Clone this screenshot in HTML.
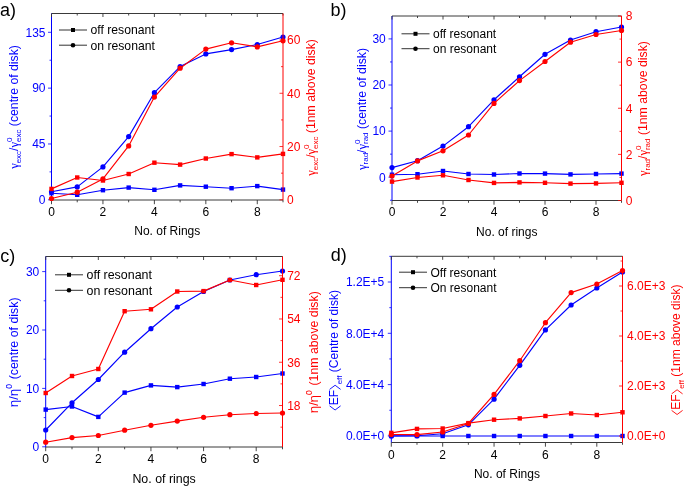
<!DOCTYPE html>
<html><head><meta charset="utf-8"><style>
html,body{margin:0;padding:0;background:#fff;}
svg{display:block;font-family:"Liberation Sans", sans-serif;will-change:transform;}
</style></head><body>
<svg width="685" height="486" viewBox="0 0 685 486">
<rect width="685" height="486" fill="#fff"/>
<line x1="51.50" y1="13.50" x2="283.00" y2="13.50" stroke="#3a3a3a" stroke-width="1.0" />
<line x1="51.50" y1="200.00" x2="283.00" y2="200.00" stroke="#3a3a3a" stroke-width="1.0" />
<line x1="51.50" y1="13.50" x2="51.50" y2="200.00" stroke="#0000ff" stroke-width="1.0" />
<line x1="51.50" y1="200.00" x2="51.50" y2="204.20" stroke="#333" stroke-width="0.9" />
<line x1="51.50" y1="13.50" x2="51.50" y2="17.00" stroke="#333" stroke-width="0.9" />
<text x="51.50" y="215.90" font-size="12" fill="#000" text-anchor="middle" >0</text>
<line x1="77.22" y1="200.00" x2="77.22" y2="202.30" stroke="#333" stroke-width="0.9" />
<line x1="77.22" y1="13.50" x2="77.22" y2="15.50" stroke="#333" stroke-width="0.9" />
<line x1="102.94" y1="200.00" x2="102.94" y2="204.20" stroke="#333" stroke-width="0.9" />
<line x1="102.94" y1="13.50" x2="102.94" y2="17.00" stroke="#333" stroke-width="0.9" />
<text x="102.94" y="215.90" font-size="12" fill="#000" text-anchor="middle" >2</text>
<line x1="128.67" y1="200.00" x2="128.67" y2="202.30" stroke="#333" stroke-width="0.9" />
<line x1="128.67" y1="13.50" x2="128.67" y2="15.50" stroke="#333" stroke-width="0.9" />
<line x1="154.39" y1="200.00" x2="154.39" y2="204.20" stroke="#333" stroke-width="0.9" />
<line x1="154.39" y1="13.50" x2="154.39" y2="17.00" stroke="#333" stroke-width="0.9" />
<text x="154.39" y="215.90" font-size="12" fill="#000" text-anchor="middle" >4</text>
<line x1="180.11" y1="200.00" x2="180.11" y2="202.30" stroke="#333" stroke-width="0.9" />
<line x1="180.11" y1="13.50" x2="180.11" y2="15.50" stroke="#333" stroke-width="0.9" />
<line x1="205.83" y1="200.00" x2="205.83" y2="204.20" stroke="#333" stroke-width="0.9" />
<line x1="205.83" y1="13.50" x2="205.83" y2="17.00" stroke="#333" stroke-width="0.9" />
<text x="205.83" y="215.90" font-size="12" fill="#000" text-anchor="middle" >6</text>
<line x1="231.56" y1="200.00" x2="231.56" y2="202.30" stroke="#333" stroke-width="0.9" />
<line x1="231.56" y1="13.50" x2="231.56" y2="15.50" stroke="#333" stroke-width="0.9" />
<line x1="257.28" y1="200.00" x2="257.28" y2="204.20" stroke="#333" stroke-width="0.9" />
<line x1="257.28" y1="13.50" x2="257.28" y2="17.00" stroke="#333" stroke-width="0.9" />
<text x="257.28" y="215.90" font-size="12" fill="#000" text-anchor="middle" >8</text>
<line x1="283.00" y1="200.00" x2="283.00" y2="202.30" stroke="#333" stroke-width="0.9" />
<line x1="283.00" y1="13.50" x2="283.00" y2="15.50" stroke="#333" stroke-width="0.9" />
<line x1="51.50" y1="199.80" x2="48.00" y2="199.80" stroke="#0000ff" stroke-width="0.8" />
<text x="45.50" y="204.10" font-size="12" fill="#0000ff" text-anchor="end" >0</text>
<line x1="51.50" y1="171.88" x2="49.50" y2="171.88" stroke="#0000ff" stroke-width="0.8" />
<line x1="51.50" y1="143.97" x2="48.00" y2="143.97" stroke="#0000ff" stroke-width="0.8" />
<text x="45.50" y="148.27" font-size="12" fill="#0000ff" text-anchor="end" >45</text>
<line x1="51.50" y1="116.05" x2="49.50" y2="116.05" stroke="#0000ff" stroke-width="0.8" />
<line x1="51.50" y1="88.14" x2="48.00" y2="88.14" stroke="#0000ff" stroke-width="0.8" />
<text x="45.50" y="92.44" font-size="12" fill="#0000ff" text-anchor="end" >90</text>
<line x1="51.50" y1="60.22" x2="49.50" y2="60.22" stroke="#0000ff" stroke-width="0.8" />
<line x1="51.50" y1="32.31" x2="48.00" y2="32.31" stroke="#0000ff" stroke-width="0.8" />
<text x="45.50" y="36.61" font-size="12" fill="#0000ff" text-anchor="end" >135</text>
<polyline points="51.50,193.20 77.22,194.80 102.94,190.20 128.67,187.60 154.39,189.80 180.11,185.40 205.83,186.70 231.56,188.20 257.28,186.10 283.00,189.60" fill="none" stroke="#0000ff" stroke-width="1.15" stroke-linejoin="round"/>
<rect x="49.30" y="191.00" width="4.4" height="4.4" fill="#0000ff"/>
<rect x="75.02" y="192.60" width="4.4" height="4.4" fill="#0000ff"/>
<rect x="100.74" y="188.00" width="4.4" height="4.4" fill="#0000ff"/>
<rect x="126.47" y="185.40" width="4.4" height="4.4" fill="#0000ff"/>
<rect x="152.19" y="187.60" width="4.4" height="4.4" fill="#0000ff"/>
<rect x="177.91" y="183.20" width="4.4" height="4.4" fill="#0000ff"/>
<rect x="203.63" y="184.50" width="4.4" height="4.4" fill="#0000ff"/>
<rect x="229.36" y="186.00" width="4.4" height="4.4" fill="#0000ff"/>
<rect x="255.08" y="183.90" width="4.4" height="4.4" fill="#0000ff"/>
<rect x="280.80" y="187.40" width="4.4" height="4.4" fill="#0000ff"/>
<polyline points="51.50,191.80 77.22,186.90 102.94,166.90 128.67,136.60 154.39,92.70 180.11,66.60 205.83,53.90 231.56,49.60 257.28,44.50 283.00,37.00" fill="none" stroke="#0000ff" stroke-width="1.15" stroke-linejoin="round"/>
<circle cx="51.50" cy="191.80" r="2.6" fill="#0000ff"/>
<circle cx="77.22" cy="186.90" r="2.6" fill="#0000ff"/>
<circle cx="102.94" cy="166.90" r="2.6" fill="#0000ff"/>
<circle cx="128.67" cy="136.60" r="2.6" fill="#0000ff"/>
<circle cx="154.39" cy="92.70" r="2.6" fill="#0000ff"/>
<circle cx="180.11" cy="66.60" r="2.6" fill="#0000ff"/>
<circle cx="205.83" cy="53.90" r="2.6" fill="#0000ff"/>
<circle cx="231.56" cy="49.60" r="2.6" fill="#0000ff"/>
<circle cx="257.28" cy="44.50" r="2.6" fill="#0000ff"/>
<circle cx="283.00" cy="37.00" r="2.6" fill="#0000ff"/>
<line x1="283.00" y1="13.50" x2="283.00" y2="200.00" stroke="#ff0000" stroke-width="1.0" />
<line x1="283.00" y1="199.80" x2="279.50" y2="199.80" stroke="#ff0000" stroke-width="0.8" />
<text x="287.00" y="204.10" font-size="12" fill="#ff0000" text-anchor="start" >0</text>
<line x1="283.00" y1="173.17" x2="281.00" y2="173.17" stroke="#ff0000" stroke-width="0.8" />
<line x1="283.00" y1="146.54" x2="279.50" y2="146.54" stroke="#ff0000" stroke-width="0.8" />
<text x="287.00" y="150.84" font-size="12" fill="#ff0000" text-anchor="start" >20</text>
<line x1="283.00" y1="119.91" x2="281.00" y2="119.91" stroke="#ff0000" stroke-width="0.8" />
<line x1="283.00" y1="93.28" x2="279.50" y2="93.28" stroke="#ff0000" stroke-width="0.8" />
<text x="287.00" y="97.58" font-size="12" fill="#ff0000" text-anchor="start" >40</text>
<line x1="283.00" y1="66.65" x2="281.00" y2="66.65" stroke="#ff0000" stroke-width="0.8" />
<line x1="283.00" y1="40.02" x2="279.50" y2="40.02" stroke="#ff0000" stroke-width="0.8" />
<text x="287.00" y="44.32" font-size="12" fill="#ff0000" text-anchor="start" >60</text>
<polyline points="51.50,188.90 77.22,177.50 102.94,180.50 128.67,174.00 154.39,162.70 180.11,164.60 205.83,158.50 231.56,154.10 257.28,157.40 283.00,153.90" fill="none" stroke="#ff0000" stroke-width="1.15" stroke-linejoin="round"/>
<rect x="49.30" y="186.70" width="4.4" height="4.4" fill="#ff0000"/>
<rect x="75.02" y="175.30" width="4.4" height="4.4" fill="#ff0000"/>
<rect x="100.74" y="178.30" width="4.4" height="4.4" fill="#ff0000"/>
<rect x="126.47" y="171.80" width="4.4" height="4.4" fill="#ff0000"/>
<rect x="152.19" y="160.50" width="4.4" height="4.4" fill="#ff0000"/>
<rect x="177.91" y="162.40" width="4.4" height="4.4" fill="#ff0000"/>
<rect x="203.63" y="156.30" width="4.4" height="4.4" fill="#ff0000"/>
<rect x="229.36" y="151.90" width="4.4" height="4.4" fill="#ff0000"/>
<rect x="255.08" y="155.20" width="4.4" height="4.4" fill="#ff0000"/>
<rect x="280.80" y="151.70" width="4.4" height="4.4" fill="#ff0000"/>
<polyline points="51.50,198.50 77.22,192.20 102.94,178.90 128.67,145.90 154.39,97.10 180.11,68.20 205.83,49.10 231.56,42.80 257.28,46.90 283.00,40.80" fill="none" stroke="#ff0000" stroke-width="1.15" stroke-linejoin="round"/>
<circle cx="51.50" cy="198.50" r="2.6" fill="#ff0000"/>
<circle cx="77.22" cy="192.20" r="2.6" fill="#ff0000"/>
<circle cx="102.94" cy="178.90" r="2.6" fill="#ff0000"/>
<circle cx="128.67" cy="145.90" r="2.6" fill="#ff0000"/>
<circle cx="154.39" cy="97.10" r="2.6" fill="#ff0000"/>
<circle cx="180.11" cy="68.20" r="2.6" fill="#ff0000"/>
<circle cx="205.83" cy="49.10" r="2.6" fill="#ff0000"/>
<circle cx="231.56" cy="42.80" r="2.6" fill="#ff0000"/>
<circle cx="257.28" cy="46.90" r="2.6" fill="#ff0000"/>
<circle cx="283.00" cy="40.80" r="2.6" fill="#ff0000"/>
<line x1="59.00" y1="30.00" x2="87.00" y2="30.00" stroke="#333" stroke-width="1.0" />
<line x1="59.00" y1="45.20" x2="87.00" y2="45.20" stroke="#333" stroke-width="1.0" />
<rect x="71.00" y="28.00" width="4.0" height="4.0" fill="#000"/>
<circle cx="73.00" cy="45.20" r="2.3" fill="#000"/>
<text x="90.50" y="34.30" font-size="12.2" fill="#000" text-anchor="start" >off resonant</text>
<text x="90.50" y="49.50" font-size="12.2" fill="#000" text-anchor="start" >on resonant</text>
<text x="167.25" y="235.20" font-size="12" fill="#000" text-anchor="middle" >No. of Rings</text>
<text x="0.00" y="15.50" font-size="18" fill="#000" text-anchor="start" >a)</text>
<line x1="392.00" y1="16.00" x2="621.50" y2="16.00" stroke="#3a3a3a" stroke-width="1.0" />
<line x1="392.00" y1="200.50" x2="621.50" y2="200.50" stroke="#3a3a3a" stroke-width="1.0" />
<line x1="392.00" y1="16.00" x2="392.00" y2="200.50" stroke="#0000ff" stroke-width="1.0" />
<line x1="392.00" y1="200.50" x2="392.00" y2="204.70" stroke="#333" stroke-width="0.9" />
<line x1="392.00" y1="16.00" x2="392.00" y2="19.50" stroke="#333" stroke-width="0.9" />
<text x="392.00" y="216.00" font-size="12" fill="#000" text-anchor="middle" >0</text>
<line x1="417.50" y1="200.50" x2="417.50" y2="202.80" stroke="#333" stroke-width="0.9" />
<line x1="417.50" y1="16.00" x2="417.50" y2="18.00" stroke="#333" stroke-width="0.9" />
<line x1="443.00" y1="200.50" x2="443.00" y2="204.70" stroke="#333" stroke-width="0.9" />
<line x1="443.00" y1="16.00" x2="443.00" y2="19.50" stroke="#333" stroke-width="0.9" />
<text x="443.00" y="216.00" font-size="12" fill="#000" text-anchor="middle" >2</text>
<line x1="468.50" y1="200.50" x2="468.50" y2="202.80" stroke="#333" stroke-width="0.9" />
<line x1="468.50" y1="16.00" x2="468.50" y2="18.00" stroke="#333" stroke-width="0.9" />
<line x1="494.00" y1="200.50" x2="494.00" y2="204.70" stroke="#333" stroke-width="0.9" />
<line x1="494.00" y1="16.00" x2="494.00" y2="19.50" stroke="#333" stroke-width="0.9" />
<text x="494.00" y="216.00" font-size="12" fill="#000" text-anchor="middle" >4</text>
<line x1="519.50" y1="200.50" x2="519.50" y2="202.80" stroke="#333" stroke-width="0.9" />
<line x1="519.50" y1="16.00" x2="519.50" y2="18.00" stroke="#333" stroke-width="0.9" />
<line x1="545.00" y1="200.50" x2="545.00" y2="204.70" stroke="#333" stroke-width="0.9" />
<line x1="545.00" y1="16.00" x2="545.00" y2="19.50" stroke="#333" stroke-width="0.9" />
<text x="545.00" y="216.00" font-size="12" fill="#000" text-anchor="middle" >6</text>
<line x1="570.50" y1="200.50" x2="570.50" y2="202.80" stroke="#333" stroke-width="0.9" />
<line x1="570.50" y1="16.00" x2="570.50" y2="18.00" stroke="#333" stroke-width="0.9" />
<line x1="596.00" y1="200.50" x2="596.00" y2="204.70" stroke="#333" stroke-width="0.9" />
<line x1="596.00" y1="16.00" x2="596.00" y2="19.50" stroke="#333" stroke-width="0.9" />
<text x="596.00" y="216.00" font-size="12" fill="#000" text-anchor="middle" >8</text>
<line x1="621.50" y1="200.50" x2="621.50" y2="202.80" stroke="#333" stroke-width="0.9" />
<line x1="621.50" y1="16.00" x2="621.50" y2="18.00" stroke="#333" stroke-width="0.9" />
<line x1="392.00" y1="200.25" x2="390.00" y2="200.25" stroke="#0000ff" stroke-width="0.8" />
<line x1="392.00" y1="177.20" x2="388.50" y2="177.20" stroke="#0000ff" stroke-width="0.8" />
<text x="385.80" y="181.50" font-size="12" fill="#0000ff" text-anchor="end" >0</text>
<line x1="392.00" y1="154.15" x2="390.00" y2="154.15" stroke="#0000ff" stroke-width="0.8" />
<line x1="392.00" y1="131.10" x2="388.50" y2="131.10" stroke="#0000ff" stroke-width="0.8" />
<text x="385.80" y="135.40" font-size="12" fill="#0000ff" text-anchor="end" >10</text>
<line x1="392.00" y1="108.05" x2="390.00" y2="108.05" stroke="#0000ff" stroke-width="0.8" />
<line x1="392.00" y1="85.00" x2="388.50" y2="85.00" stroke="#0000ff" stroke-width="0.8" />
<text x="385.80" y="89.30" font-size="12" fill="#0000ff" text-anchor="end" >20</text>
<line x1="392.00" y1="61.95" x2="390.00" y2="61.95" stroke="#0000ff" stroke-width="0.8" />
<line x1="392.00" y1="38.90" x2="388.50" y2="38.90" stroke="#0000ff" stroke-width="0.8" />
<text x="385.80" y="43.20" font-size="12" fill="#0000ff" text-anchor="end" >30</text>
<polyline points="392.00,174.70 417.50,174.20 443.00,171.00 468.50,174.00 494.00,174.50 519.50,173.50 545.00,173.60 570.50,174.40 596.00,174.00 621.50,173.60" fill="none" stroke="#0000ff" stroke-width="1.15" stroke-linejoin="round"/>
<rect x="389.80" y="172.50" width="4.4" height="4.4" fill="#0000ff"/>
<rect x="415.30" y="172.00" width="4.4" height="4.4" fill="#0000ff"/>
<rect x="440.80" y="168.80" width="4.4" height="4.4" fill="#0000ff"/>
<rect x="466.30" y="171.80" width="4.4" height="4.4" fill="#0000ff"/>
<rect x="491.80" y="172.30" width="4.4" height="4.4" fill="#0000ff"/>
<rect x="517.30" y="171.30" width="4.4" height="4.4" fill="#0000ff"/>
<rect x="542.80" y="171.40" width="4.4" height="4.4" fill="#0000ff"/>
<rect x="568.30" y="172.20" width="4.4" height="4.4" fill="#0000ff"/>
<rect x="593.80" y="171.80" width="4.4" height="4.4" fill="#0000ff"/>
<rect x="619.30" y="171.40" width="4.4" height="4.4" fill="#0000ff"/>
<polyline points="392.00,167.60 417.50,160.70 443.00,146.10 468.50,126.70 494.00,99.80 519.50,76.80 545.00,54.30 570.50,40.00 596.00,31.70 621.50,27.00" fill="none" stroke="#0000ff" stroke-width="1.15" stroke-linejoin="round"/>
<circle cx="392.00" cy="167.60" r="2.6" fill="#0000ff"/>
<circle cx="417.50" cy="160.70" r="2.6" fill="#0000ff"/>
<circle cx="443.00" cy="146.10" r="2.6" fill="#0000ff"/>
<circle cx="468.50" cy="126.70" r="2.6" fill="#0000ff"/>
<circle cx="494.00" cy="99.80" r="2.6" fill="#0000ff"/>
<circle cx="519.50" cy="76.80" r="2.6" fill="#0000ff"/>
<circle cx="545.00" cy="54.30" r="2.6" fill="#0000ff"/>
<circle cx="570.50" cy="40.00" r="2.6" fill="#0000ff"/>
<circle cx="596.00" cy="31.70" r="2.6" fill="#0000ff"/>
<circle cx="621.50" cy="27.00" r="2.6" fill="#0000ff"/>
<line x1="621.50" y1="16.00" x2="621.50" y2="200.50" stroke="#ff0000" stroke-width="1.0" />
<line x1="621.50" y1="200.50" x2="618.00" y2="200.50" stroke="#ff0000" stroke-width="0.8" />
<text x="625.80" y="204.80" font-size="12" fill="#ff0000" text-anchor="start" >0</text>
<line x1="621.50" y1="177.44" x2="619.50" y2="177.44" stroke="#ff0000" stroke-width="0.8" />
<line x1="621.50" y1="154.38" x2="618.00" y2="154.38" stroke="#ff0000" stroke-width="0.8" />
<text x="625.80" y="158.68" font-size="12" fill="#ff0000" text-anchor="start" >2</text>
<line x1="621.50" y1="131.32" x2="619.50" y2="131.32" stroke="#ff0000" stroke-width="0.8" />
<line x1="621.50" y1="108.26" x2="618.00" y2="108.26" stroke="#ff0000" stroke-width="0.8" />
<text x="625.80" y="112.56" font-size="12" fill="#ff0000" text-anchor="start" >4</text>
<line x1="621.50" y1="85.20" x2="619.50" y2="85.20" stroke="#ff0000" stroke-width="0.8" />
<line x1="621.50" y1="62.14" x2="618.00" y2="62.14" stroke="#ff0000" stroke-width="0.8" />
<text x="625.80" y="66.44" font-size="12" fill="#ff0000" text-anchor="start" >6</text>
<line x1="621.50" y1="39.08" x2="619.50" y2="39.08" stroke="#ff0000" stroke-width="0.8" />
<line x1="621.50" y1="16.02" x2="618.00" y2="16.02" stroke="#ff0000" stroke-width="0.8" />
<text x="625.80" y="20.32" font-size="12" fill="#ff0000" text-anchor="start" >8</text>
<polyline points="392.00,181.60 417.50,177.50 443.00,175.30 468.50,180.00 494.00,182.90 519.50,182.40 545.00,182.80 570.50,183.60 596.00,183.40 621.50,182.80" fill="none" stroke="#ff0000" stroke-width="1.15" stroke-linejoin="round"/>
<rect x="389.80" y="179.40" width="4.4" height="4.4" fill="#ff0000"/>
<rect x="415.30" y="175.30" width="4.4" height="4.4" fill="#ff0000"/>
<rect x="440.80" y="173.10" width="4.4" height="4.4" fill="#ff0000"/>
<rect x="466.30" y="177.80" width="4.4" height="4.4" fill="#ff0000"/>
<rect x="491.80" y="180.70" width="4.4" height="4.4" fill="#ff0000"/>
<rect x="517.30" y="180.20" width="4.4" height="4.4" fill="#ff0000"/>
<rect x="542.80" y="180.60" width="4.4" height="4.4" fill="#ff0000"/>
<rect x="568.30" y="181.40" width="4.4" height="4.4" fill="#ff0000"/>
<rect x="593.80" y="181.20" width="4.4" height="4.4" fill="#ff0000"/>
<rect x="619.30" y="180.60" width="4.4" height="4.4" fill="#ff0000"/>
<polyline points="392.00,176.00 417.50,160.90 443.00,150.80 468.50,135.00 494.00,103.40 519.50,80.60 545.00,61.50 570.50,42.20 596.00,34.50 621.50,30.50" fill="none" stroke="#ff0000" stroke-width="1.15" stroke-linejoin="round"/>
<circle cx="392.00" cy="176.00" r="2.6" fill="#ff0000"/>
<circle cx="417.50" cy="160.90" r="2.6" fill="#ff0000"/>
<circle cx="443.00" cy="150.80" r="2.6" fill="#ff0000"/>
<circle cx="468.50" cy="135.00" r="2.6" fill="#ff0000"/>
<circle cx="494.00" cy="103.40" r="2.6" fill="#ff0000"/>
<circle cx="519.50" cy="80.60" r="2.6" fill="#ff0000"/>
<circle cx="545.00" cy="61.50" r="2.6" fill="#ff0000"/>
<circle cx="570.50" cy="42.20" r="2.6" fill="#ff0000"/>
<circle cx="596.00" cy="34.50" r="2.6" fill="#ff0000"/>
<circle cx="621.50" cy="30.50" r="2.6" fill="#ff0000"/>
<line x1="401.50" y1="33.80" x2="429.50" y2="33.80" stroke="#333" stroke-width="1.0" />
<line x1="401.50" y1="48.70" x2="429.50" y2="48.70" stroke="#333" stroke-width="1.0" />
<rect x="413.50" y="31.80" width="4.0" height="4.0" fill="#000"/>
<circle cx="415.50" cy="48.70" r="2.3" fill="#000"/>
<text x="433.00" y="38.10" font-size="12" fill="#000" text-anchor="start" >off resonant</text>
<text x="433.00" y="53.00" font-size="12" fill="#000" text-anchor="start" >on resonant</text>
<text x="506.75" y="235.50" font-size="12" fill="#000" text-anchor="middle" >No. of rings</text>
<text x="330.50" y="15.60" font-size="18" fill="#000" text-anchor="start" >b)</text>
<line x1="45.70" y1="256.50" x2="282.50" y2="256.50" stroke="#3a3a3a" stroke-width="1.0" />
<line x1="45.70" y1="447.00" x2="282.50" y2="447.00" stroke="#3a3a3a" stroke-width="1.0" />
<line x1="45.70" y1="256.50" x2="45.70" y2="447.00" stroke="#0000ff" stroke-width="1.0" />
<line x1="45.70" y1="447.00" x2="45.70" y2="451.20" stroke="#333" stroke-width="0.9" />
<line x1="45.70" y1="256.50" x2="45.70" y2="260.00" stroke="#333" stroke-width="0.9" />
<text x="45.70" y="462.80" font-size="12" fill="#000" text-anchor="middle" >0</text>
<line x1="72.01" y1="447.00" x2="72.01" y2="449.30" stroke="#333" stroke-width="0.9" />
<line x1="72.01" y1="256.50" x2="72.01" y2="258.50" stroke="#333" stroke-width="0.9" />
<line x1="98.32" y1="447.00" x2="98.32" y2="451.20" stroke="#333" stroke-width="0.9" />
<line x1="98.32" y1="256.50" x2="98.32" y2="260.00" stroke="#333" stroke-width="0.9" />
<text x="98.32" y="462.80" font-size="12" fill="#000" text-anchor="middle" >2</text>
<line x1="124.63" y1="447.00" x2="124.63" y2="449.30" stroke="#333" stroke-width="0.9" />
<line x1="124.63" y1="256.50" x2="124.63" y2="258.50" stroke="#333" stroke-width="0.9" />
<line x1="150.94" y1="447.00" x2="150.94" y2="451.20" stroke="#333" stroke-width="0.9" />
<line x1="150.94" y1="256.50" x2="150.94" y2="260.00" stroke="#333" stroke-width="0.9" />
<text x="150.94" y="462.80" font-size="12" fill="#000" text-anchor="middle" >4</text>
<line x1="177.26" y1="447.00" x2="177.26" y2="449.30" stroke="#333" stroke-width="0.9" />
<line x1="177.26" y1="256.50" x2="177.26" y2="258.50" stroke="#333" stroke-width="0.9" />
<line x1="203.57" y1="447.00" x2="203.57" y2="451.20" stroke="#333" stroke-width="0.9" />
<line x1="203.57" y1="256.50" x2="203.57" y2="260.00" stroke="#333" stroke-width="0.9" />
<text x="203.57" y="462.80" font-size="12" fill="#000" text-anchor="middle" >6</text>
<line x1="229.88" y1="447.00" x2="229.88" y2="449.30" stroke="#333" stroke-width="0.9" />
<line x1="229.88" y1="256.50" x2="229.88" y2="258.50" stroke="#333" stroke-width="0.9" />
<line x1="256.19" y1="447.00" x2="256.19" y2="451.20" stroke="#333" stroke-width="0.9" />
<line x1="256.19" y1="256.50" x2="256.19" y2="260.00" stroke="#333" stroke-width="0.9" />
<text x="256.19" y="462.80" font-size="12" fill="#000" text-anchor="middle" >8</text>
<line x1="282.50" y1="447.00" x2="282.50" y2="449.30" stroke="#333" stroke-width="0.9" />
<line x1="282.50" y1="256.50" x2="282.50" y2="258.50" stroke="#333" stroke-width="0.9" />
<line x1="45.70" y1="446.80" x2="42.20" y2="446.80" stroke="#0000ff" stroke-width="0.8" />
<text x="39.30" y="451.10" font-size="12" fill="#0000ff" text-anchor="end" >0</text>
<line x1="45.70" y1="417.60" x2="43.70" y2="417.60" stroke="#0000ff" stroke-width="0.8" />
<line x1="45.70" y1="388.40" x2="42.20" y2="388.40" stroke="#0000ff" stroke-width="0.8" />
<text x="39.30" y="392.70" font-size="12" fill="#0000ff" text-anchor="end" >10</text>
<line x1="45.70" y1="359.20" x2="43.70" y2="359.20" stroke="#0000ff" stroke-width="0.8" />
<line x1="45.70" y1="330.00" x2="42.20" y2="330.00" stroke="#0000ff" stroke-width="0.8" />
<text x="39.30" y="334.30" font-size="12" fill="#0000ff" text-anchor="end" >20</text>
<line x1="45.70" y1="300.80" x2="43.70" y2="300.80" stroke="#0000ff" stroke-width="0.8" />
<line x1="45.70" y1="271.60" x2="42.20" y2="271.60" stroke="#0000ff" stroke-width="0.8" />
<text x="39.30" y="275.90" font-size="12" fill="#0000ff" text-anchor="end" >30</text>
<polyline points="45.70,409.60 72.01,406.50 98.32,416.90 124.63,392.60 150.94,385.40 177.26,387.10 203.57,384.00 229.88,378.70 256.19,377.00 282.50,373.50" fill="none" stroke="#0000ff" stroke-width="1.15" stroke-linejoin="round"/>
<rect x="43.50" y="407.40" width="4.4" height="4.4" fill="#0000ff"/>
<rect x="69.81" y="404.30" width="4.4" height="4.4" fill="#0000ff"/>
<rect x="96.12" y="414.70" width="4.4" height="4.4" fill="#0000ff"/>
<rect x="122.43" y="390.40" width="4.4" height="4.4" fill="#0000ff"/>
<rect x="148.74" y="383.20" width="4.4" height="4.4" fill="#0000ff"/>
<rect x="175.06" y="384.90" width="4.4" height="4.4" fill="#0000ff"/>
<rect x="201.37" y="381.80" width="4.4" height="4.4" fill="#0000ff"/>
<rect x="227.68" y="376.50" width="4.4" height="4.4" fill="#0000ff"/>
<rect x="253.99" y="374.80" width="4.4" height="4.4" fill="#0000ff"/>
<rect x="280.30" y="371.30" width="4.4" height="4.4" fill="#0000ff"/>
<polyline points="45.70,430.00 72.01,402.80 98.32,379.50 124.63,352.20 150.94,328.70 177.26,307.00 203.57,291.50 229.88,280.00 256.19,274.70 282.50,271.00" fill="none" stroke="#0000ff" stroke-width="1.15" stroke-linejoin="round"/>
<circle cx="45.70" cy="430.00" r="2.6" fill="#0000ff"/>
<circle cx="72.01" cy="402.80" r="2.6" fill="#0000ff"/>
<circle cx="98.32" cy="379.50" r="2.6" fill="#0000ff"/>
<circle cx="124.63" cy="352.20" r="2.6" fill="#0000ff"/>
<circle cx="150.94" cy="328.70" r="2.6" fill="#0000ff"/>
<circle cx="177.26" cy="307.00" r="2.6" fill="#0000ff"/>
<circle cx="203.57" cy="291.50" r="2.6" fill="#0000ff"/>
<circle cx="229.88" cy="280.00" r="2.6" fill="#0000ff"/>
<circle cx="256.19" cy="274.70" r="2.6" fill="#0000ff"/>
<circle cx="282.50" cy="271.00" r="2.6" fill="#0000ff"/>
<line x1="282.50" y1="256.50" x2="282.50" y2="447.00" stroke="#ff0000" stroke-width="1.0" />
<line x1="282.50" y1="427.16" x2="280.50" y2="427.16" stroke="#ff0000" stroke-width="0.8" />
<line x1="282.50" y1="405.53" x2="279.00" y2="405.53" stroke="#ff0000" stroke-width="0.8" />
<text x="287.20" y="409.83" font-size="12" fill="#ff0000" text-anchor="start" >18</text>
<line x1="282.50" y1="383.89" x2="280.50" y2="383.89" stroke="#ff0000" stroke-width="0.8" />
<line x1="282.50" y1="362.26" x2="279.00" y2="362.26" stroke="#ff0000" stroke-width="0.8" />
<text x="287.20" y="366.56" font-size="12" fill="#ff0000" text-anchor="start" >36</text>
<line x1="282.50" y1="340.62" x2="280.50" y2="340.62" stroke="#ff0000" stroke-width="0.8" />
<line x1="282.50" y1="318.98" x2="279.00" y2="318.98" stroke="#ff0000" stroke-width="0.8" />
<text x="287.20" y="323.28" font-size="12" fill="#ff0000" text-anchor="start" >54</text>
<line x1="282.50" y1="297.35" x2="280.50" y2="297.35" stroke="#ff0000" stroke-width="0.8" />
<line x1="282.50" y1="275.71" x2="279.00" y2="275.71" stroke="#ff0000" stroke-width="0.8" />
<text x="287.20" y="280.01" font-size="12" fill="#ff0000" text-anchor="start" >72</text>
<polyline points="45.70,393.00 72.01,376.00 98.32,369.00 124.63,311.20 150.94,309.30 177.26,291.50 203.57,291.10 229.88,280.00 256.19,285.00 282.50,279.80" fill="none" stroke="#ff0000" stroke-width="1.15" stroke-linejoin="round"/>
<rect x="43.50" y="390.80" width="4.4" height="4.4" fill="#ff0000"/>
<rect x="69.81" y="373.80" width="4.4" height="4.4" fill="#ff0000"/>
<rect x="96.12" y="366.80" width="4.4" height="4.4" fill="#ff0000"/>
<rect x="122.43" y="309.00" width="4.4" height="4.4" fill="#ff0000"/>
<rect x="148.74" y="307.10" width="4.4" height="4.4" fill="#ff0000"/>
<rect x="175.06" y="289.30" width="4.4" height="4.4" fill="#ff0000"/>
<rect x="201.37" y="288.90" width="4.4" height="4.4" fill="#ff0000"/>
<rect x="227.68" y="277.80" width="4.4" height="4.4" fill="#ff0000"/>
<rect x="253.99" y="282.80" width="4.4" height="4.4" fill="#ff0000"/>
<rect x="280.30" y="277.60" width="4.4" height="4.4" fill="#ff0000"/>
<polyline points="45.70,442.20 72.01,437.60 98.32,435.50 124.63,430.20 150.94,425.30 177.26,421.10 203.57,417.30 229.88,414.70 256.19,413.50 282.50,413.00" fill="none" stroke="#ff0000" stroke-width="1.15" stroke-linejoin="round"/>
<circle cx="45.70" cy="442.20" r="2.6" fill="#ff0000"/>
<circle cx="72.01" cy="437.60" r="2.6" fill="#ff0000"/>
<circle cx="98.32" cy="435.50" r="2.6" fill="#ff0000"/>
<circle cx="124.63" cy="430.20" r="2.6" fill="#ff0000"/>
<circle cx="150.94" cy="425.30" r="2.6" fill="#ff0000"/>
<circle cx="177.26" cy="421.10" r="2.6" fill="#ff0000"/>
<circle cx="203.57" cy="417.30" r="2.6" fill="#ff0000"/>
<circle cx="229.88" cy="414.70" r="2.6" fill="#ff0000"/>
<circle cx="256.19" cy="413.50" r="2.6" fill="#ff0000"/>
<circle cx="282.50" cy="413.00" r="2.6" fill="#ff0000"/>
<line x1="55.00" y1="274.80" x2="83.00" y2="274.80" stroke="#333" stroke-width="1.0" />
<line x1="55.00" y1="290.30" x2="83.00" y2="290.30" stroke="#333" stroke-width="1.0" />
<rect x="67.00" y="272.80" width="4.0" height="4.0" fill="#000"/>
<circle cx="69.00" cy="290.30" r="2.3" fill="#000"/>
<text x="86.50" y="279.10" font-size="12.45" fill="#000" text-anchor="start" >off resonant</text>
<text x="86.50" y="294.60" font-size="12.45" fill="#000" text-anchor="start" >on resonant</text>
<text x="164.10" y="483.00" font-size="12.4" fill="#000" text-anchor="middle" >No. of rings</text>
<text x="0.30" y="261.90" font-size="18" fill="#000" text-anchor="start" >c)</text>
<line x1="391.30" y1="256.30" x2="622.50" y2="256.30" stroke="#3a3a3a" stroke-width="1.0" />
<line x1="391.30" y1="442.50" x2="622.50" y2="442.50" stroke="#3a3a3a" stroke-width="1.0" />
<line x1="391.30" y1="256.30" x2="391.30" y2="442.50" stroke="#0000ff" stroke-width="1.0" />
<line x1="391.30" y1="442.50" x2="391.30" y2="446.70" stroke="#333" stroke-width="0.9" />
<line x1="391.30" y1="256.30" x2="391.30" y2="259.80" stroke="#333" stroke-width="0.9" />
<text x="391.30" y="458.50" font-size="12" fill="#000" text-anchor="middle" >0</text>
<line x1="416.99" y1="442.50" x2="416.99" y2="444.80" stroke="#333" stroke-width="0.9" />
<line x1="416.99" y1="256.30" x2="416.99" y2="258.30" stroke="#333" stroke-width="0.9" />
<line x1="442.68" y1="442.50" x2="442.68" y2="446.70" stroke="#333" stroke-width="0.9" />
<line x1="442.68" y1="256.30" x2="442.68" y2="259.80" stroke="#333" stroke-width="0.9" />
<text x="442.68" y="458.50" font-size="12" fill="#000" text-anchor="middle" >2</text>
<line x1="468.37" y1="442.50" x2="468.37" y2="444.80" stroke="#333" stroke-width="0.9" />
<line x1="468.37" y1="256.30" x2="468.37" y2="258.30" stroke="#333" stroke-width="0.9" />
<line x1="494.06" y1="442.50" x2="494.06" y2="446.70" stroke="#333" stroke-width="0.9" />
<line x1="494.06" y1="256.30" x2="494.06" y2="259.80" stroke="#333" stroke-width="0.9" />
<text x="494.06" y="458.50" font-size="12" fill="#000" text-anchor="middle" >4</text>
<line x1="519.74" y1="442.50" x2="519.74" y2="444.80" stroke="#333" stroke-width="0.9" />
<line x1="519.74" y1="256.30" x2="519.74" y2="258.30" stroke="#333" stroke-width="0.9" />
<line x1="545.43" y1="442.50" x2="545.43" y2="446.70" stroke="#333" stroke-width="0.9" />
<line x1="545.43" y1="256.30" x2="545.43" y2="259.80" stroke="#333" stroke-width="0.9" />
<text x="545.43" y="458.50" font-size="12" fill="#000" text-anchor="middle" >6</text>
<line x1="571.12" y1="442.50" x2="571.12" y2="444.80" stroke="#333" stroke-width="0.9" />
<line x1="571.12" y1="256.30" x2="571.12" y2="258.30" stroke="#333" stroke-width="0.9" />
<line x1="596.81" y1="442.50" x2="596.81" y2="446.70" stroke="#333" stroke-width="0.9" />
<line x1="596.81" y1="256.30" x2="596.81" y2="259.80" stroke="#333" stroke-width="0.9" />
<text x="596.81" y="458.50" font-size="12" fill="#000" text-anchor="middle" >8</text>
<line x1="622.50" y1="442.50" x2="622.50" y2="444.80" stroke="#333" stroke-width="0.9" />
<line x1="622.50" y1="256.30" x2="622.50" y2="258.30" stroke="#333" stroke-width="0.9" />
<line x1="391.30" y1="435.90" x2="387.80" y2="435.90" stroke="#0000ff" stroke-width="0.8" />
<text x="384.30" y="440.20" font-size="12" fill="#0000ff" text-anchor="end" >0.0E+0</text>
<line x1="391.30" y1="410.25" x2="389.30" y2="410.25" stroke="#0000ff" stroke-width="0.8" />
<line x1="391.30" y1="384.60" x2="387.80" y2="384.60" stroke="#0000ff" stroke-width="0.8" />
<text x="384.30" y="388.90" font-size="12" fill="#0000ff" text-anchor="end" >4.0E+4</text>
<line x1="391.30" y1="358.95" x2="389.30" y2="358.95" stroke="#0000ff" stroke-width="0.8" />
<line x1="391.30" y1="333.30" x2="387.80" y2="333.30" stroke="#0000ff" stroke-width="0.8" />
<text x="384.30" y="337.60" font-size="12" fill="#0000ff" text-anchor="end" >8.0E+4</text>
<line x1="391.30" y1="307.65" x2="389.30" y2="307.65" stroke="#0000ff" stroke-width="0.8" />
<line x1="391.30" y1="282.00" x2="387.80" y2="282.00" stroke="#0000ff" stroke-width="0.8" />
<text x="384.30" y="286.30" font-size="12" fill="#0000ff" text-anchor="end" >1.2E+5</text>
<line x1="391.30" y1="256.35" x2="389.30" y2="256.35" stroke="#0000ff" stroke-width="0.8" />
<polyline points="391.30,436.00 416.99,436.00 442.68,436.00 468.37,436.00 494.06,436.00 519.74,436.00 545.43,436.00 571.12,436.00 596.81,436.00 622.50,436.00" fill="none" stroke="#0000ff" stroke-width="1.15" stroke-linejoin="round"/>
<rect x="389.10" y="433.80" width="4.4" height="4.4" fill="#0000ff"/>
<rect x="414.79" y="433.80" width="4.4" height="4.4" fill="#0000ff"/>
<rect x="440.48" y="433.80" width="4.4" height="4.4" fill="#0000ff"/>
<rect x="466.17" y="433.80" width="4.4" height="4.4" fill="#0000ff"/>
<rect x="491.86" y="433.80" width="4.4" height="4.4" fill="#0000ff"/>
<rect x="517.54" y="433.80" width="4.4" height="4.4" fill="#0000ff"/>
<rect x="543.23" y="433.80" width="4.4" height="4.4" fill="#0000ff"/>
<rect x="568.92" y="433.80" width="4.4" height="4.4" fill="#0000ff"/>
<rect x="594.61" y="433.80" width="4.4" height="4.4" fill="#0000ff"/>
<rect x="620.30" y="433.80" width="4.4" height="4.4" fill="#0000ff"/>
<polyline points="391.30,435.90 416.99,435.80 442.68,433.80 468.37,424.80 494.06,399.20 519.74,365.30 545.43,329.90 571.12,305.00 596.81,288.00 622.50,272.00" fill="none" stroke="#0000ff" stroke-width="1.15" stroke-linejoin="round"/>
<circle cx="391.30" cy="435.90" r="2.6" fill="#0000ff"/>
<circle cx="416.99" cy="435.80" r="2.6" fill="#0000ff"/>
<circle cx="442.68" cy="433.80" r="2.6" fill="#0000ff"/>
<circle cx="468.37" cy="424.80" r="2.6" fill="#0000ff"/>
<circle cx="494.06" cy="399.20" r="2.6" fill="#0000ff"/>
<circle cx="519.74" cy="365.30" r="2.6" fill="#0000ff"/>
<circle cx="545.43" cy="329.90" r="2.6" fill="#0000ff"/>
<circle cx="571.12" cy="305.00" r="2.6" fill="#0000ff"/>
<circle cx="596.81" cy="288.00" r="2.6" fill="#0000ff"/>
<circle cx="622.50" cy="272.00" r="2.6" fill="#0000ff"/>
<line x1="622.50" y1="256.30" x2="622.50" y2="442.50" stroke="#ff0000" stroke-width="1.0" />
<line x1="622.50" y1="436.00" x2="619.00" y2="436.00" stroke="#ff0000" stroke-width="0.8" />
<text x="627.00" y="440.30" font-size="12" fill="#ff0000" text-anchor="start" >0.0E+0</text>
<line x1="622.50" y1="411.00" x2="620.50" y2="411.00" stroke="#ff0000" stroke-width="0.8" />
<line x1="622.50" y1="386.00" x2="619.00" y2="386.00" stroke="#ff0000" stroke-width="0.8" />
<text x="627.00" y="390.30" font-size="12" fill="#ff0000" text-anchor="start" >2.0E+3</text>
<line x1="622.50" y1="361.00" x2="620.50" y2="361.00" stroke="#ff0000" stroke-width="0.8" />
<line x1="622.50" y1="336.00" x2="619.00" y2="336.00" stroke="#ff0000" stroke-width="0.8" />
<text x="627.00" y="340.30" font-size="12" fill="#ff0000" text-anchor="start" >4.0E+3</text>
<line x1="622.50" y1="311.00" x2="620.50" y2="311.00" stroke="#ff0000" stroke-width="0.8" />
<line x1="622.50" y1="286.00" x2="619.00" y2="286.00" stroke="#ff0000" stroke-width="0.8" />
<text x="627.00" y="290.30" font-size="12" fill="#ff0000" text-anchor="start" >6.0E+3</text>
<line x1="622.50" y1="261.00" x2="620.50" y2="261.00" stroke="#ff0000" stroke-width="0.8" />
<polyline points="391.30,432.90 416.99,428.90 442.68,428.50 468.37,423.10 494.06,419.70 519.74,418.40 545.43,416.00 571.12,413.50 596.81,415.00 622.50,412.30" fill="none" stroke="#ff0000" stroke-width="1.15" stroke-linejoin="round"/>
<rect x="389.10" y="430.70" width="4.4" height="4.4" fill="#ff0000"/>
<rect x="414.79" y="426.70" width="4.4" height="4.4" fill="#ff0000"/>
<rect x="440.48" y="426.30" width="4.4" height="4.4" fill="#ff0000"/>
<rect x="466.17" y="420.90" width="4.4" height="4.4" fill="#ff0000"/>
<rect x="491.86" y="417.50" width="4.4" height="4.4" fill="#ff0000"/>
<rect x="517.54" y="416.20" width="4.4" height="4.4" fill="#ff0000"/>
<rect x="543.23" y="413.80" width="4.4" height="4.4" fill="#ff0000"/>
<rect x="568.92" y="411.30" width="4.4" height="4.4" fill="#ff0000"/>
<rect x="594.61" y="412.80" width="4.4" height="4.4" fill="#ff0000"/>
<rect x="620.30" y="410.10" width="4.4" height="4.4" fill="#ff0000"/>
<polyline points="391.30,434.50 416.99,434.60 442.68,432.00 468.37,423.50 494.06,394.40 519.74,360.70 545.43,322.70 571.12,292.60 596.81,284.00 622.50,270.60" fill="none" stroke="#ff0000" stroke-width="1.15" stroke-linejoin="round"/>
<circle cx="391.30" cy="434.50" r="2.6" fill="#ff0000"/>
<circle cx="416.99" cy="434.60" r="2.6" fill="#ff0000"/>
<circle cx="442.68" cy="432.00" r="2.6" fill="#ff0000"/>
<circle cx="468.37" cy="423.50" r="2.6" fill="#ff0000"/>
<circle cx="494.06" cy="394.40" r="2.6" fill="#ff0000"/>
<circle cx="519.74" cy="360.70" r="2.6" fill="#ff0000"/>
<circle cx="545.43" cy="322.70" r="2.6" fill="#ff0000"/>
<circle cx="571.12" cy="292.60" r="2.6" fill="#ff0000"/>
<circle cx="596.81" cy="284.00" r="2.6" fill="#ff0000"/>
<circle cx="622.50" cy="270.60" r="2.6" fill="#ff0000"/>
<line x1="399.00" y1="272.20" x2="427.00" y2="272.20" stroke="#333" stroke-width="1.0" />
<line x1="399.00" y1="287.70" x2="427.00" y2="287.70" stroke="#333" stroke-width="1.0" />
<rect x="411.00" y="270.20" width="4.0" height="4.0" fill="#000"/>
<circle cx="413.00" cy="287.70" r="2.3" fill="#000"/>
<text x="430.50" y="276.50" font-size="12" fill="#000" text-anchor="start" >Off resonant</text>
<text x="430.50" y="292.00" font-size="12" fill="#000" text-anchor="start" >On resonant</text>
<text x="506.90" y="478.20" font-size="12" fill="#000" text-anchor="middle" >No. of Rings</text>
<text x="330.70" y="261.40" font-size="18" fill="#000" text-anchor="start" >d)</text>
<text transform="translate(17.90,107.00) rotate(-90)" x="0" y="0" font-size="12" fill="#0000ff" text-anchor="middle" xml:space="preserve"><tspan font-size="12.5" font-family="Liberation Serif">γ</tspan><tspan font-size="8.0" dy="2.6">exc</tspan><tspan font-size="12" dy="-2.6">/</tspan><tspan font-size="12.5" font-family="Liberation Serif">γ</tspan><tspan font-size="8.0" dy="-6.2">0</tspan><tspan font-size="8.0" dx="-4.45" dy="8.8">exc</tspan><tspan font-size="12.25" dx="0.0" dy="-2.6"> (centre of disk)</tspan></text>
<text transform="translate(315.40,107.50) rotate(-90)" x="0" y="0" font-size="12" fill="#ff0000" text-anchor="middle" xml:space="preserve"><tspan font-size="12.5" font-family="Liberation Serif">γ</tspan><tspan font-size="8.0" dy="2.6">exc</tspan><tspan font-size="12" dy="-2.6">/</tspan><tspan font-size="12.5" font-family="Liberation Serif">γ</tspan><tspan font-size="8.0" dy="-6.2">0</tspan><tspan font-size="8.0" dx="-4.45" dy="8.8">exc</tspan><tspan font-size="12.25" dx="0.0" dy="-2.6"> (1nm above disk)</tspan></text>
<text transform="translate(365.80,109.00) rotate(-90)" x="0" y="0" font-size="12" fill="#0000ff" text-anchor="middle" xml:space="preserve"><tspan font-size="12.5" font-family="Liberation Serif">γ</tspan><tspan font-size="8.0" dy="2.6">rad</tspan><tspan font-size="12" dy="-2.6">/</tspan><tspan font-size="12.5" font-family="Liberation Serif">γ</tspan><tspan font-size="8.0" dy="-6.2">0</tspan><tspan font-size="8.0" dx="-4.45" dy="8.8">rad</tspan><tspan font-size="12.25" dx="0.0" dy="-2.6"> (centre of disk)</tspan></text>
<text transform="translate(647.00,108.60) rotate(-90)" x="0" y="0" font-size="12" fill="#ff0000" text-anchor="middle" xml:space="preserve"><tspan font-size="12.5" font-family="Liberation Serif">γ</tspan><tspan font-size="8.0" dy="2.6">rad</tspan><tspan font-size="12" dy="-2.6">/</tspan><tspan font-size="12.5" font-family="Liberation Serif">γ</tspan><tspan font-size="8.0" dy="-6.2">0</tspan><tspan font-size="8.0" dx="-4.45" dy="8.8">rad</tspan><tspan font-size="12.25" dx="0.0" dy="-2.6"> (1nm above disk)</tspan></text>
<text transform="translate(17.80,352.30) rotate(-90)" x="0" y="0" font-size="12" fill="#0000ff" text-anchor="middle" xml:space="preserve"><tspan font-size="13.5">η</tspan><tspan font-size="12.4">/</tspan><tspan font-size="13.5">η</tspan><tspan font-size="8.5" dy="-5.4">0</tspan><tspan font-size="12.4" dx="1.2" dy="5.4"> (centre of disk)</tspan></text>
<text transform="translate(317.80,352.30) rotate(-90)" x="0" y="0" font-size="12" fill="#ff0000" text-anchor="middle" xml:space="preserve"><tspan font-size="13.5">η</tspan><tspan font-size="12.3">/</tspan><tspan font-size="13.5">η</tspan><tspan font-size="8.5" dy="-5.4">0</tspan><tspan font-size="12.3" dx="1.2" dy="5.4"> (1nm above disk)</tspan></text>
<g transform="translate(338.30,350.50) rotate(-90)" fill="#0000ff" font-size="12"><polyline points="-55.39,-8.70 -59.49,-3.20 -55.39,2.30" fill="none" stroke="#0000ff" stroke-width="0.9"/><text x="-54.79" y="0">EF</text><polyline points="-38.86,-8.70 -34.76,-3.20 -38.86,2.30" fill="none" stroke="#0000ff" stroke-width="0.9"/><text x="-33.86" y="3.6" font-size="8.0">eff</text><text x="-21.63" y="0">(Centre of disk)</text></g>
<g transform="translate(680.30,350.00) rotate(-90)" fill="#ff0000" font-size="12"><polyline points="-60.40,-8.70 -64.50,-3.20 -60.40,2.30" fill="none" stroke="#ff0000" stroke-width="0.9"/><text x="-59.80" y="0">EF</text><polyline points="-43.87,-8.70 -39.77,-3.20 -43.87,2.30" fill="none" stroke="#ff0000" stroke-width="0.9"/><text x="-38.87" y="3.6" font-size="8.0">eff</text><text x="-26.64" y="0">(1nm above disk)</text></g>
</svg>
</body></html>
